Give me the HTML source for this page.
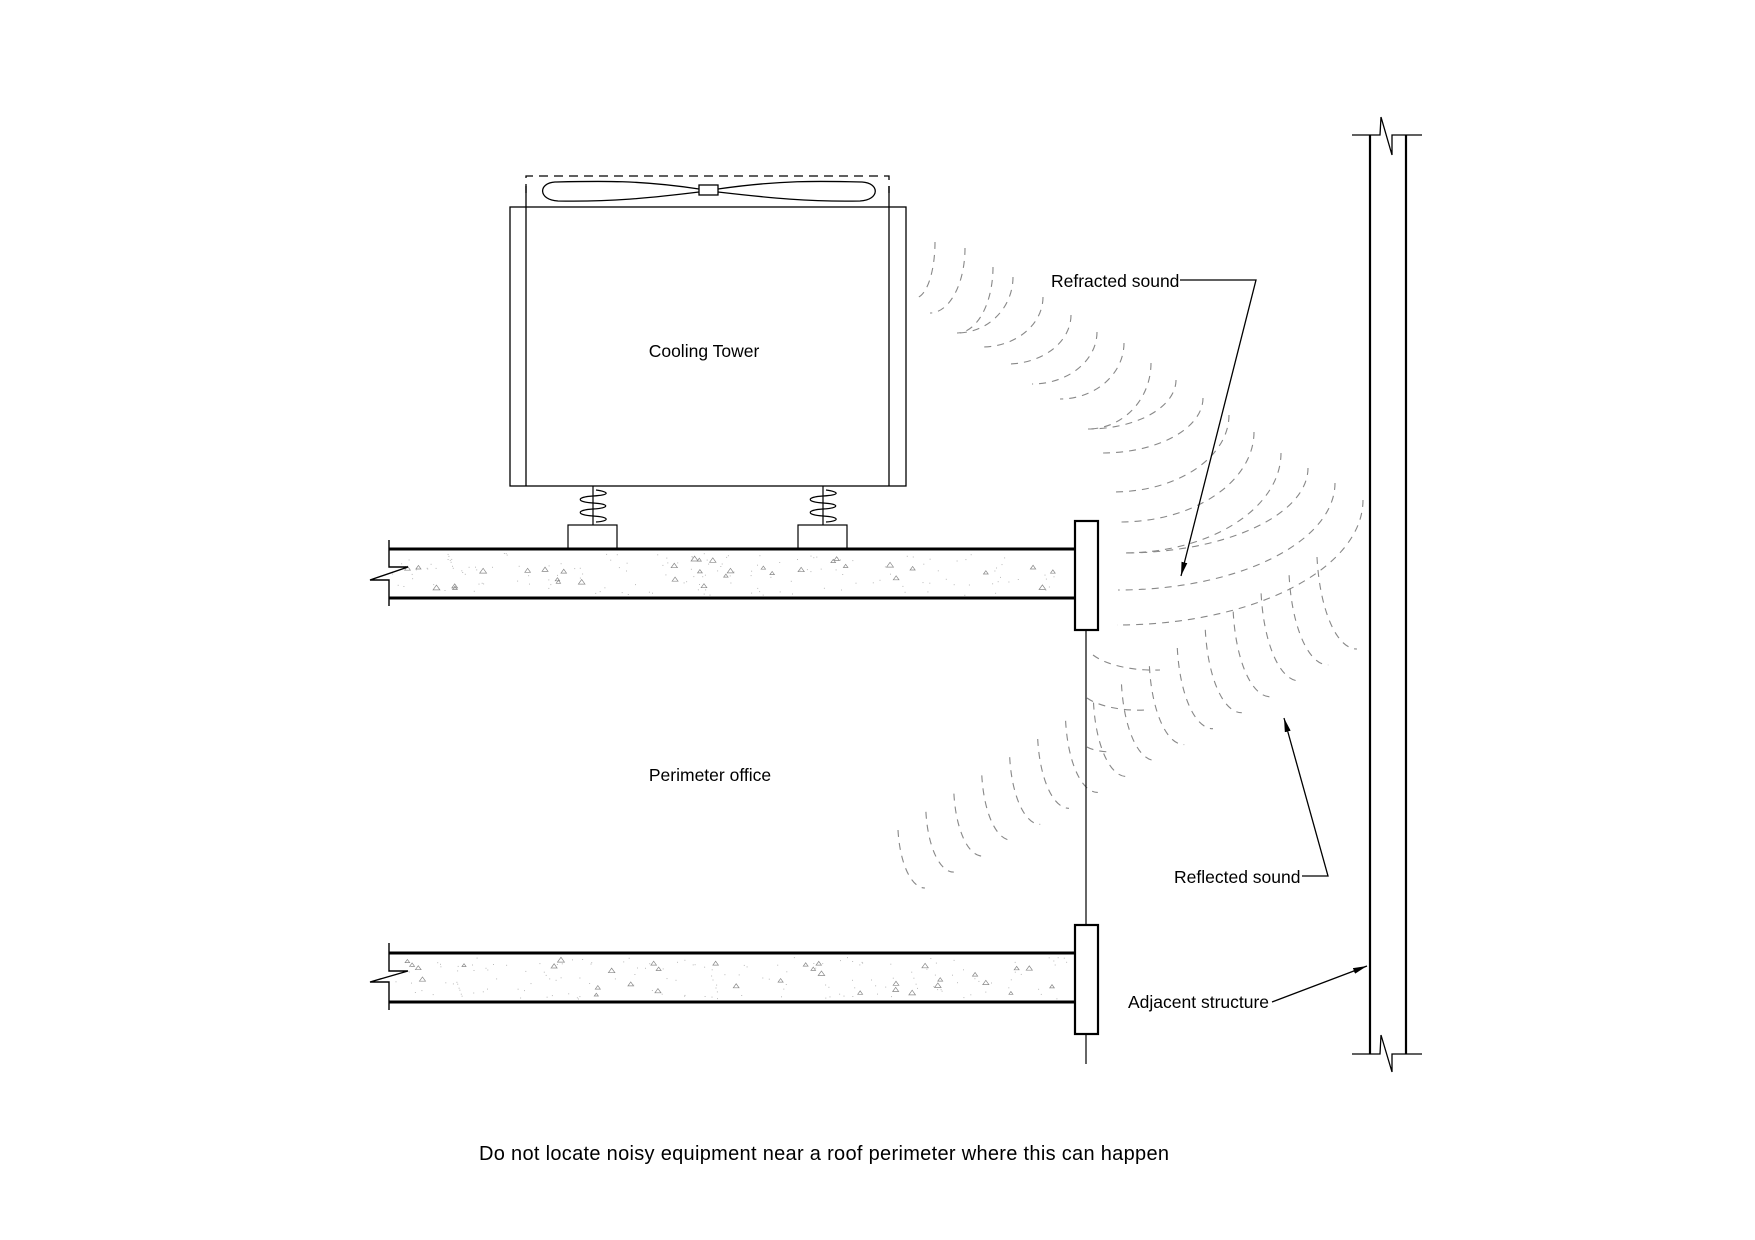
<!DOCTYPE html>
<html><head><meta charset="utf-8"><style>
html,body{margin:0;padding:0;background:#fff;}
svg{display:block;}
text{font-family:"Liberation Sans",Arial,sans-serif;fill:#000;}
</style></head><body>
<svg id="s" width="1755" height="1240" viewBox="0 0 1755 1240" xmlns="http://www.w3.org/2000/svg">
<defs>
<marker id="ar" markerWidth="14" markerHeight="6" refX="14" refY="3" orient="auto" markerUnits="userSpaceOnUse">
<path d="M0,0 L14,3 L0,6 Z" fill="#000"/>
</marker>
</defs>
<rect width="1755" height="1240" fill="#fff"/>
<g id="waves" fill="none" stroke="#888" stroke-width="1.1" stroke-dasharray="7 6"></g>
<g id="tex"></g>

<path d="M526,193 L526,176 L889,176 L889,193" fill="none" stroke="#000" stroke-width="1.3" stroke-dasharray="9 6"/>
<path d="M699,189 C640,180 600,181 555,182 C538,183 538,200 558,201 C610,202 650,198 699,192" fill="none" stroke="#000" stroke-width="1.3"/>
<path d="M718,189 C780,180 820,181 862,182 C880,183 880,200 860,201 C810,202 770,198 718,192" fill="none" stroke="#000" stroke-width="1.3"/>
<rect x="699" y="185" width="19" height="10" fill="#fff" stroke="#000" stroke-width="1.3"/>

<rect x="510" y="207" width="396" height="279" fill="none" stroke="#000" stroke-width="1.3"/>
<line x1="526" y1="186" x2="526" y2="486" stroke="#000" stroke-width="1.3"/>
<line x1="889" y1="186" x2="889" y2="486" stroke="#000" stroke-width="1.3"/>
<text x="704" y="357" font-size="17.5" text-anchor="middle">Cooling Tower</text>

<g fill="none" stroke="#000" stroke-width="1.2">
<line x1="593" y1="486" x2="593" y2="525"/>
<path d="M596,490 C610,492 610,495 593,496 C576,497 576,502 593,503 C610,504 610,508 593,509 C576,510 576,515 593,516 C610,517 610,521 596,522"/>
<line x1="823" y1="486" x2="823" y2="525"/>
<path d="M826,490 C840,492 840,495 823,496 C806,497 806,502 823,503 C840,504 840,508 823,509 C806,510 806,515 823,516 C840,517 840,521 826,522"/>
<rect x="568" y="525" width="49" height="24"/>
<rect x="798" y="525" width="49" height="24"/>
</g>

<line x1="389" y1="549" x2="1075" y2="549" stroke="#000" stroke-width="3"/>
<line x1="389" y1="598" x2="1075" y2="598" stroke="#000" stroke-width="3"/>
<path d="M389,540 L389,567 L408,567 L370,580 L389,580 L389,606" fill="none" stroke="#000" stroke-width="1.4"/>
<rect x="1075" y="521" width="23" height="109" fill="#fff" stroke="#000" stroke-width="2.2"/>
<line x1="1086" y1="630" x2="1086" y2="925" stroke="#000" stroke-width="1.2"/>

<line x1="389" y1="953" x2="1075" y2="953" stroke="#000" stroke-width="3"/>
<line x1="389" y1="1002" x2="1075" y2="1002" stroke="#000" stroke-width="3"/>
<path d="M389,943 L389,971 L408,971 L370,982 L389,982 L389,1010" fill="none" stroke="#000" stroke-width="1.4"/>
<rect x="1075" y="925" width="23" height="109" fill="#fff" stroke="#000" stroke-width="2.2"/>
<line x1="1086" y1="1034" x2="1086" y2="1064" stroke="#000" stroke-width="1.2"/>

<text x="710" y="781" font-size="17.5" text-anchor="middle">Perimeter office</text>

<line x1="1370" y1="135" x2="1370" y2="1054" stroke="#000" stroke-width="2.2"/>
<line x1="1406" y1="135" x2="1406" y2="1054" stroke="#000" stroke-width="2.2"/>
<path d="M1352,135 L1380,135 L1381,117 L1392,155 L1392,135 L1422,135" fill="none" stroke="#000" stroke-width="1.3"/>
<path d="M1352,1054 L1380,1054 L1381,1035 L1392,1072 L1392,1054 L1422,1054" fill="none" stroke="#000" stroke-width="1.3"/>

<text x="1051" y="287" font-size="17.5">Refracted sound</text>
<polyline points="1180,280 1256,280 1181,576" fill="none" stroke="#000" stroke-width="1.3" marker-end="url(#ar)"/>
<text x="1174" y="883" font-size="17.5">Reflected sound</text>
<polyline points="1302,876 1328,876 1284,718" fill="none" stroke="#000" stroke-width="1.3" marker-end="url(#ar)"/>
<text x="1128" y="1008" font-size="17.5">Adjacent structure</text>
<polyline points="1272,1002 1367,966" fill="none" stroke="#000" stroke-width="1.3" marker-end="url(#ar)"/>

<text x="824" y="1160" font-size="20" text-anchor="middle" textLength="690">Do not locate noisy equipment near a roof perimeter where this can happen</text>
</svg>
<script>
(function(){
var NS="http://www.w3.org/2000/svg";
var w=document.getElementById("waves");
function P(d){var p=document.createElementNS(NS,"path");p.setAttribute("d",d);w.appendChild(p);}
var tops=[[935,242],[965,248],[993,267],[1013,277],[1043,297],[1071,315],[1097,332],[1124,343],[1151,363],[1176,380],[1203,398],[1229,415],[1254,432],[1281,453],[1308,468],[1335,483],[1363,500]];
var bots=[[915,298],[930,313],[957,333],[982,347],[1007,364],[1032,384],[1060,399],[1088,429],[1102,453],[1113,492],[1120,522],[1123,553],[1118,590],[1117,625]];
for(var i=0;i<17;i++){
 var b=bots[Math.min(13,Math.round(i*13/16))],t=tops[i];
 var rx=Math.max(8,t[0]-b[0]),ry=Math.max(8,b[1]-t[1]);
 P("M"+t[0]+","+t[1]+" A"+rx+","+ry+" 0 0 1 "+b[0]+","+b[1]);
}
P("M1093,655 A70,30 0 0 0 1160,670");
P("M1087,698 A60,25 0 0 0 1145,710");
P("M1087,747 A30,10 0 0 0 1112,752");
var N=16;
for(var k=0;k<N;k++){
 var f=k/(N-1);
 var tx=898+(1317-898)*f, ty=830+(557-830)*f;
 var ex=925+(1357-925)*f, ey=888+(649-888)*f;
 var rx=ex-tx, ry=ey-ty;
 P("M"+tx.toFixed(1)+","+ty.toFixed(1)+" A"+rx.toFixed(1)+","+(ry*1.15).toFixed(1)+" 0 0 0 "+ex.toFixed(1)+","+ey.toFixed(1));
}
var g=document.getElementById("tex");
var seed=7;function r(){seed=(seed*9301+49297)%233280;return seed/233280;}
function slab(y0){
 for(var i=0;i<34;i++){
  var x=400+r()*660,y=y0+8+r()*34;
  var t=document.createElementNS(NS,"path");
  var s=2+r()*1.5;
  t.setAttribute("d","M"+x.toFixed(1)+","+y.toFixed(1)+" l"+s+","+(-s*1.4)+" l"+s+","+(s*1.4)+" z");
  t.setAttribute("fill","none");t.setAttribute("stroke","#888");t.setAttribute("stroke-width","0.7");
  g.appendChild(t);
 }
 for(var j=0;j<160;j++){
  var c=document.createElementNS(NS,"rect");
  c.setAttribute("x",(392+r()*680).toFixed(1));c.setAttribute("y",(y0+3+r()*42).toFixed(1));
  c.setAttribute("width","1");c.setAttribute("height","1");c.setAttribute("fill","#bbb");
  g.appendChild(c);
 }
}
slab(550);slab(954);
})();
</script>
</body></html>
